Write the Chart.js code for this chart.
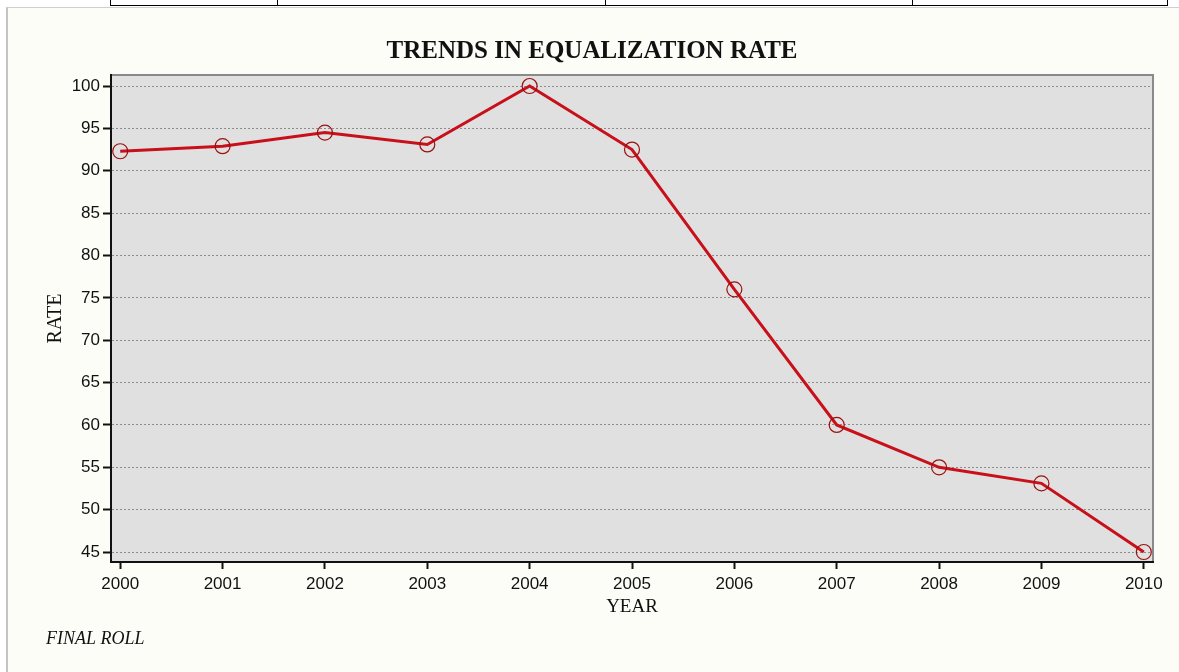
<!DOCTYPE html>
<html>
<head>
<meta charset="utf-8">
<title>Trends in Equalization Rate</title>
<script src="https://cdn.jsdelivr.net/npm/chart.js@4.4.1/dist/chart.umd.min.js"></script>
<style>
  html, body { margin: 0; padding: 0; background: #ffffff; }
  body { width: 1179px; height: 672px; position: relative; overflow: hidden; }
  /* table row above the chart panel */
  .row { position: absolute; top: 0; height: 5px; border-bottom: 1px solid #000; border-left: 1px solid #000; }
  .panel {
    position: absolute; left: 6px; top: 7px; right: 0; bottom: 0;
    background: #fdfdf8; border-left: 2px solid #c4c4c4; border-top: 1px solid #d0d0d0;
  }
  #chart { position: absolute; left: 0; top: 0; }
</style>
</head>
<body>
<div class="row" style="left:110px;width:167px"></div>
<div class="row" style="left:277px;width:328px"></div>
<div class="row" style="left:605px;width:307px"></div>
<div class="row" style="left:912px;width:254px;border-right:1px solid #000"></div>
<div class="panel"></div>
<canvas id="chart" width="1179" height="672"></canvas>
<script>
var years = [2000, 2001, 2002, 2003, 2004, 2005, 2006, 2007, 2008, 2009, 2010];
var rates = [92.3, 92.9, 94.5, 93.1, 100, 92.5, 76.0, 60.0, 55.0, 53.1, 45.0];
var rateTicks = [45, 50, 55, 60, 65, 70, 75, 80, 85, 90, 95, 100];

var titleText = "TRENDS IN EQUALIZATION RATE";
var footText = "FINAL ROLL";

// grey plot box with the lighter top/right edges, plus title and footnote
var frame = {
  id: "frame",
  beforeDraw: function (chart) {
    var ctx = chart.ctx, a = chart.chartArea;
    ctx.save();
    ctx.fillStyle = "#e0e0e0";
    ctx.fillRect(a.left, a.top, a.right - a.left, a.bottom - a.top);
    ctx.strokeStyle = "#8a8a8a";
    ctx.lineWidth = 2;
    ctx.beginPath();
    ctx.moveTo(a.left, a.top);
    ctx.lineTo(a.right, a.top);
    ctx.lineTo(a.right, a.bottom);
    ctx.stroke();
    ctx.restore();
  },
  afterDraw: function (chart) {
    var ctx = chart.ctx;
    ctx.save();
    ctx.fillStyle = "#111";
    ctx.textAlign = "center";
    ctx.textBaseline = "middle";
    ctx.font = "bold 25px 'Liberation Serif', serif";
    ctx.fillText(titleText, 592, 52);
    ctx.textAlign = "left";
    ctx.font = "italic 18px 'Liberation Serif', serif";
    ctx.fillText(footText, 46, 639);
    ctx.restore();
  }
};

new Chart(document.getElementById("chart"), {
  type: "line",
  data: {
    datasets: [{
      data: years.map(function (y, i) { return { x: y, y: rates[i] }; }),
      borderColor: "#c8101a",
      borderWidth: 3,
      pointStyle: "circle",
      pointRadius: 7.5,
      pointBorderWidth: 1.2,
      pointBorderColor: "#9a1010",
      pointBackgroundColor: "rgba(0,0,0,0)",
      tension: 0
    }]
  },
  options: {
    responsive: false,
    animation: false,
    events: [],
    layout: { padding: { left: 0, top: 75, right: 26, bottom: 0 } },
    plugins: { legend: { display: false }, tooltip: { enabled: false } },
    scales: {
      x: {
        type: "linear",
        min: 1999.91,
        max: 2010.09,
        afterFit: function (s) { s.height = 110; },
        afterBuildTicks: function (s) { s.ticks = years.map(function (v) { return { value: v }; }); },
        ticks: {
          color: "#111",
          font: { family: "'Liberation Sans', Arial, sans-serif", size: 17 },
          padding: 5,
          maxRotation: 0,
          callback: function (v) { return String(v); }
        },
        grid: { drawOnChartArea: false, tickLength: 7, tickColor: "#111", tickWidth: 2 },
        border: { color: "#111", width: 2 },
        title: {
          display: true,
          text: "YEAR",
          color: "#111",
          font: { family: "'Liberation Serif', serif", size: 19 },
          padding: { top: 0, bottom: 54 }
        }
      },
      y: {
        min: 43.82,
        max: 101.3,
        afterFit: function (s) { s.width = 111; },
        afterBuildTicks: function (s) { s.ticks = rateTicks.map(function (v) { return { value: v }; }); },
        ticks: {
          color: "#111",
          font: { family: "'Liberation Sans', Arial, sans-serif", size: 17 },
          padding: 3
        },
        grid: {
          color: "#8c8c8c",
          lineWidth: 1,
          tickLength: 8,
          tickColor: "#111",
          tickWidth: 2,
          tickBorderDash: []
        },
        border: { color: "#111", width: 2, dash: [2, 2] },
        title: {
          display: true,
          text: "RATE",
          color: "#111",
          font: { family: "'Liberation Serif', serif", size: 20 },
          padding: { top: 44, bottom: 0 }
        }
      }
    }
  },
  plugins: [frame]
});
</script>
</body>
</html>
